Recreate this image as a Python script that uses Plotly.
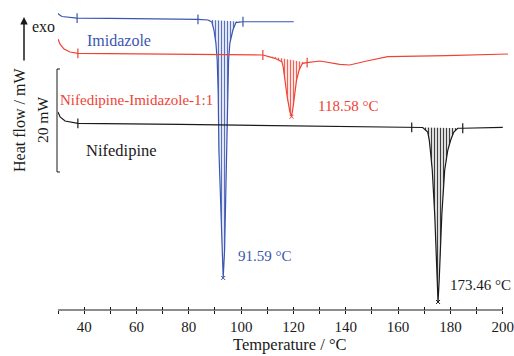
import numpy as np
import plotly.graph_objects as go

# ---------------- data ----------------
temp_ticks = [30, 40, 50, 60, 70, 80, 90, 100, 110, 120, 130, 140, 150, 160, 170, 180, 190, 200]
temp_labels = ["", "40", "", "60", "", "80", "", "100", "", "120", "", "140", "", "160", "", "180", "", "200"]

imid_T = [30.0, 30.4, 31.5, 34.6, 37.3, 50, 70, 83.5, 87.3, 88.8, 89.6, 90.35, 90.85, 91.23, 91.5,
          92.15, 92.76, 93.14, 93.68, 94.06, 94.67, 95.05, 95.2, 95.7, 96.85, 98.0, 100.7, 110, 120.1]
imid_mW = [21.5, 21.26, 20.87, 20.68, 20.58, 20.5, 20.42, 20.33, 20.2, 19.8, 18.25, 15.73, 12.43, 6.02, -5.05,
           -14.76, -24.47, -29.9, -24.47, -14.76, -5.05, 6.02, 12.43, 15.73, 18.25, 19.7, 19.86, 19.86, 19.86]
imid_marks_T = [37.3, 83.5, 100.7]
imid_peak_T = 93.14

cocr_T = [30.0, 30.8, 32.3, 34.6, 37.6, 60, 80, 100, 108.3, 112.9, 115.56, 116.06, 116.71, 117.59, 118.62,
          119.27, 119.88, 120.53, 121.18, 122.17, 123.47, 125.23, 130.1, 137.7, 141.5, 148.0, 156.0, 178.6, 202.0]
cocr_mW = [16.5, 15.5, 14.56, 13.98, 13.73, 13.62, 13.55, 13.48, 13.4, 12.76, 12.1, 11.13, 8.54, 5.3, 2.39,
           1.42, 3.36, 5.96, 8.54, 10.49, 11.79, 11.9, 12.23, 11.59, 11.46, 12.23, 13.07, 13.26, 13.59]
cocr_marks_T = [37.6, 108.3, 125.23]
cocr_peak_T = 119.27

nife_T = [30.0, 30.8, 32.7, 37.6, 76.6, 165.2, 169.4, 171.3, 171.9, 172.3, 173.05, 174.0, 174.6, 174.95,
          175.26, 175.7, 176.1, 176.7, 177.8, 179.0, 180.1, 181.3, 182.8, 184.7, 200.0]
nife_mW = [2.33, 1.36, 0.58, 0.14, -0.06, -0.64, -0.68, -1.55, -3.11, -5.05, -8.93, -17.67, -24.47, -30.3,
           -34.56, -30.3, -24.47, -17.67, -8.93, -5.05, -3.11, -1.55, -0.82, -0.82, -0.64]
nife_marks_T = [37.6, 165.2, 184.7]
nife_peak_T = 175.26

series_names = ["Imidazole", "Nifedipine-Imidazole-1:1", "Nifedipine"]
peak_labels = ["91.59 \u00b0C", "118.58 \u00b0C", "173.46 \u00b0C"]
scale_bar_mW = 20
scale_bar_top_mW = 10.68

# ---------------- styling ----------------
BLUE = "#3a56b2"
RED = "#ef4234"
BLACK = "#1a1a1a"
FONT = "Liberation Serif"
X_RANGE = [30, 202]
Y_RANGE = [-36.12, 23.11]

W, H = 514, 356
ML, MR, MT, MB = 58, 6, 5, 46


def pxx(px):
    return (px - ML) / (W - ML - MR)


def pxy(py):
    return (H - MB - py) / (H - MT - MB)


def mw_paper(v):
    return (v - Y_RANGE[0]) / (Y_RANGE[1] - Y_RANGE[0])


def rgba(hexc, a):
    h = hexc.lstrip("#")
    return "rgba(%d,%d,%d,%.2f)" % (int(h[0:2], 16), int(h[2:4], 16), int(h[4:6], 16), a)


fig = go.Figure()

curves = [
    (imid_T, imid_mW, imid_marks_T, imid_peak_T, BLUE),
    (cocr_T, cocr_mW, cocr_marks_T, cocr_peak_T, RED),
    (nife_T, nife_mW, nife_marks_T, nife_peak_T, BLACK),
]

# hatched peak areas
for T, V, marks, peak, col in curves:
    T = np.array(T)
    V = np.array(V)
    a, b = marks[1], marks[2]
    va, vb = np.interp(a, T, V), np.interp(b, T, V)
    fig.add_trace(go.Scatter(x=[a, b], y=[va, vb], mode="lines",
                             line=dict(width=0, color=col), showlegend=False, hoverinfo="skip"))
    m = (T >= a) & (T <= b)
    fig.add_trace(go.Scatter(x=T[m], y=V[m], mode="lines", line=dict(width=0, color=col),
                             fill="tonexty", fillcolor=rgba(col, 0.18),
                             fillpattern=dict(shape="|", fgcolor=col, bgcolor=rgba(col, 0.15),
                                              size=3, solidity=0.3, fgopacity=0.9),
                             showlegend=False, hoverinfo="skip"))

# curves, marks, peak tips
for T, V, marks, peak, col in curves:
    fig.add_trace(go.Scatter(x=T, y=V, mode="lines", line=dict(color=col, width=1.2),
                             showlegend=False))
    fig.add_trace(go.Scatter(x=marks, y=np.interp(marks, T, V), mode="markers",
                             marker=dict(symbol="line-ns", size=7, line=dict(width=1.2, color=col)),
                             showlegend=False, hoverinfo="skip"))
    fig.add_trace(go.Scatter(x=[peak], y=[np.interp(peak, T, V)], mode="markers",
                             marker=dict(symbol="x-thin", size=4, line=dict(width=1, color=col)),
                             showlegend=False, hoverinfo="skip"))

# x axis line (ends at 200)
fig.add_shape(type="line", xref="x", yref="paper", x0=30, x1=200, y0=0, y1=0,
              line=dict(color=BLACK, width=1.2))

# scale bar bracket
yt = mw_paper(scale_bar_top_mW)
yb = mw_paper(scale_bar_top_mW - scale_bar_mW)
fig.add_shape(type="path", xref="paper", yref="paper",
              path="M %f,%f L %f,%f L %f,%f L %f,%f" % (pxx(60), yt, pxx(57), yt, pxx(57), yb, pxx(60), yb),
              line=dict(color=BLACK, width=1))

ann = []


def txt(text, px, py, size, color=BLACK, angle=0):
    ann.append(dict(text=text, x=pxx(px), y=pxy(py), xref="paper", yref="paper",
                    showarrow=False, xanchor="center", yanchor="middle", textangle=angle,
                    font=dict(family=FONT, size=size, color=color)))


txt(series_names[0], 119, 40, 16, BLUE)
txt(series_names[1], 136.5, 100, 15, RED)
txt(series_names[2], 121.5, 150, 16.5, BLACK)
txt(peak_labels[0], 264.5, 256, 15, BLUE)
txt(peak_labels[1], 348, 106, 15, RED)
txt(peak_labels[2], 480.5, 285, 15, BLACK)
txt("Heat flow / mW", 20, 120, 16, BLACK, -90)
txt("20 mW", 43, 120, 15.5, BLACK, -90)
txt("exo", 43.5, 27, 16, BLACK)
txt("Temperature / \u00b0C", 290, 345, 16.5, BLACK)

ann.append(dict(text="", x=pxx(24), y=pxy(17), xref="paper", yref="paper", showarrow=True,
                ax=0, ay=45, arrowhead=2, arrowsize=1, arrowwidth=1.5, arrowcolor=BLACK))

fig.update_layout(
    width=W, height=H,
    margin=dict(l=ML, r=MR, t=MT, b=MB, autoexpand=False),
    paper_bgcolor="white", plot_bgcolor="white",
    showlegend=False,
    annotations=ann,
    xaxis=dict(range=X_RANGE, tickmode="array", tickvals=temp_ticks, ticktext=temp_labels,
               ticks="outside", ticklen=3, tickwidth=1, tickcolor=BLACK,
               ticklabeloverflow="allow", automargin=False,
               showline=False, showgrid=False, zeroline=False,
               tickfont=dict(family=FONT, size=15, color=BLACK)),
    xaxis2=dict(range=X_RANGE, overlaying="x", anchor="y", side="bottom", tickmode="array",
                tickvals=temp_ticks, ticks="inside", ticklen=3, tickwidth=1, tickcolor=BLACK,
                showticklabels=False, showline=False, showgrid=False, zeroline=False,
                automargin=False),
    yaxis=dict(range=Y_RANGE, visible=False, showgrid=False, zeroline=False, automargin=False),
)
fig.add_trace(go.Scatter(x=[], y=[], xaxis="x2", yaxis="y", showlegend=False))

fig.write_html("out.html")
